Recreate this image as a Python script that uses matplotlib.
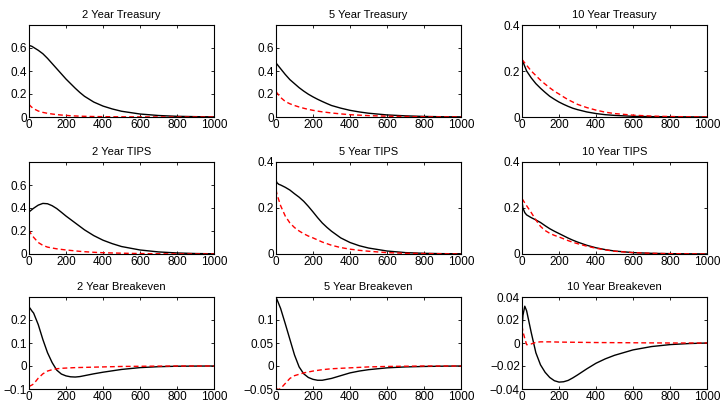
import matplotlib
matplotlib.use("Agg")
import matplotlib.pyplot as plt

plt.rcParams['font.family'] = ['Liberation Sans', 'DejaVu Sans']

# horizon grid shared by all responses
horizon = [0, 5, 15, 25, 50, 75, 100, 125, 150, 175, 200, 225, 250, 275, 300,
           350, 400, 450, 500, 600, 700, 800, 900, 1000]

# solid black responses
tsy2_black = [0.62, 0.62, 0.615, 0.605, 0.58, 0.55, 0.51, 0.465, 0.42, 0.375, 0.33, 0.29,
              0.25, 0.213, 0.18, 0.13, 0.095, 0.07, 0.05, 0.026, 0.013, 0.006, 0.003, 0.001]
tsy5_black = [0.47, 0.46, 0.44, 0.42, 0.37, 0.325, 0.29, 0.255, 0.225, 0.198, 0.175, 0.154,
              0.135, 0.117, 0.10, 0.077, 0.058, 0.044, 0.033, 0.018, 0.01, 0.005, 0.002, 0.001]
tsy10_black = [0.25, 0.24, 0.22, 0.2, 0.17, 0.145, 0.125, 0.107, 0.09, 0.077, 0.065, 0.055,
               0.046, 0.038, 0.032, 0.022, 0.015, 0.01, 0.007, 0.003, 0.0015, 0.001, 0.0005, 0.0]
tips2_black = [0.37, 0.372, 0.385, 0.398, 0.425, 0.44, 0.437, 0.42, 0.395, 0.363, 0.33, 0.30,
               0.27, 0.24, 0.21, 0.16, 0.12, 0.09, 0.065, 0.035, 0.018, 0.009, 0.004, 0.002]
tips5_black = [0.32, 0.31, 0.303, 0.30, 0.29, 0.278, 0.262, 0.247, 0.229, 0.207, 0.183, 0.158,
               0.135, 0.116, 0.099, 0.07, 0.05, 0.036, 0.026, 0.013, 0.006, 0.003, 0.0015, 0.001]
tips10_black = [0.23, 0.2, 0.18, 0.17, 0.158, 0.148, 0.137, 0.123, 0.11, 0.099, 0.089, 0.079,
                0.069, 0.06, 0.052, 0.038, 0.027, 0.019, 0.013, 0.006, 0.003, 0.0015, 0.0007, 0.0003]
be2_black = [0.255, 0.252, 0.24, 0.23, 0.18, 0.115, 0.058, 0.015, -0.018, -0.035, -0.043, -0.047,
             -0.048, -0.046, -0.042, -0.034, -0.027, -0.021, -0.015, -0.007, -0.003, -0.001, -0.0004, 0.0]
be5_black = [0.149, 0.145, 0.135, 0.125, 0.092, 0.058, 0.024, -0.002, -0.017, -0.025, -0.029, -0.031,
             -0.031, -0.029, -0.027, -0.021, -0.015, -0.011, -0.008, -0.004, -0.002, -0.001, -0.0004, 0.0]
be10_black = [0.012, 0.024, 0.032, 0.028, 0.009, -0.0085, -0.019, -0.0255, -0.030, -0.0328, -0.034, -0.0337,
              -0.0325, -0.0303, -0.0278, -0.0225, -0.0176, -0.0138, -0.0107, -0.006, -0.0031, -0.0014, -0.0005, 0.0]

# dashed red responses
tsy2_red = [0.11, 0.1, 0.085, 0.072, 0.052, 0.04, 0.032, 0.026, 0.021, 0.017, 0.014, 0.011,
            0.009, 0.007, 0.006, 0.004, 0.003, 0.002, 0.0015, 0.001, 0.0005, 0.0003, 0.0001, 0.0]
tsy5_red = [0.22, 0.21, 0.19, 0.17, 0.135, 0.115, 0.10, 0.087, 0.076, 0.066, 0.058, 0.051,
            0.045, 0.04, 0.035, 0.027, 0.02, 0.016, 0.012, 0.007, 0.004, 0.002, 0.001, 0.0]
tsy10_red = [0.25, 0.245, 0.235, 0.225, 0.2, 0.18, 0.16, 0.143, 0.127, 0.112, 0.1, 0.087,
             0.075, 0.065, 0.055, 0.041, 0.03, 0.021, 0.015, 0.008, 0.004, 0.002, 0.001, 0.0]
tips2_red = [0.21, 0.19, 0.165, 0.145, 0.1, 0.075, 0.06, 0.052, 0.045, 0.04, 0.035, 0.031,
             0.027, 0.023, 0.02, 0.015, 0.011, 0.009, 0.007, 0.004, 0.002, 0.001, 0.0005, 0.0]
tips5_red = [0.28, 0.26, 0.235, 0.21, 0.165, 0.135, 0.115, 0.1, 0.088, 0.078, 0.07, 0.061,
             0.052, 0.045, 0.038, 0.028, 0.021, 0.016, 0.012, 0.006, 0.003, 0.002, 0.001, 0.0]
tips10_red = [0.24, 0.235, 0.222, 0.21, 0.18, 0.148, 0.12, 0.102, 0.09, 0.081, 0.074, 0.066,
              0.058, 0.051, 0.045, 0.034, 0.025, 0.018, 0.012, 0.006, 0.003, 0.0015, 0.0007, 0.0]
be2_red = [-0.088, -0.087, -0.083, -0.078, -0.053, -0.034, -0.022, -0.016, -0.012, -0.01, -0.009, -0.008,
           -0.007, -0.0065, -0.006, -0.005, -0.004, -0.003, -0.002, -0.0012, -0.0005, 0.0, 0.0, 0.0]
be5_red = [-0.048, -0.05, -0.051, -0.049, -0.038, -0.027, -0.021, -0.018, -0.015, -0.013, -0.011, -0.0095,
           -0.008, -0.007, -0.006, -0.005, -0.004, -0.003, -0.002, -0.001, -0.0005, 0.0, 0.0, 0.0]
be10_red = [0.015, 0.01, 0.004, -0.0015, -0.0008, 0.0006, 0.001, 0.001, 0.001, 0.0009, 0.0008, 0.00075,
            0.0007, 0.00065, 0.0006, 0.0005, 0.0004, 0.00035, 0.0003, 0.0002, 0.0001, 0.0, 0.0, 0.0]

titles = ["2 Year Treasury", "5 Year Treasury", "10 Year Treasury",
          "2 Year TIPS", "5 Year TIPS", "10 Year TIPS",
          "2 Year Breakeven", "5 Year Breakeven", "10 Year Breakeven"]
black_series = [tsy2_black, tsy5_black, tsy10_black, tips2_black, tips5_black,
                tips10_black, be2_black, be5_black, be10_black]
red_series = [tsy2_red, tsy5_red, tsy10_red, tips2_red, tips5_red,
              tips10_red, be2_red, be5_red, be10_red]
ylims = [(0, 0.8), (0, 0.8), (0, 0.4),
         (0, 0.8), (0, 0.4), (0, 0.4),
         (-0.1, 0.3), (-0.05, 0.15), (-0.04, 0.04)]
yticks = [[0, 0.2, 0.4, 0.6], [0, 0.2, 0.4, 0.6], [0, 0.2, 0.4],
          [0, 0.2, 0.4, 0.6], [0, 0.2, 0.4], [0, 0.2, 0.4],
          [-0.1, 0, 0.1, 0.2], [-0.05, 0, 0.05, 0.1], [-0.04, -0.02, 0, 0.02, 0.04]]
ytick_labels = [["0", "0.2", "0.4", "0.6"], ["0", "0.2", "0.4", "0.6"], ["0", "0.2", "0.4"],
                ["0", "0.2", "0.4", "0.6"], ["0", "0.2", "0.4"], ["0", "0.2", "0.4"],
                ["\u22120.1", "0", "0.1", "0.2"], ["\u22120.05", "0", "0.05", "0.1"],
                ["\u22120.04", "\u22120.02", "0", "0.02", "0.04"]]
xticks = [0, 200, 400, 600, 800, 1000]

fig = plt.figure(figsize=(7.22, 4.03), dpi=100)

lefts = [29, 276, 522]
tops = [25, 162, 297]
W, H = 722.0, 403.0
ax_w, ax_h = 185, 92

for i in range(9):
    r, c = divmod(i, 3)
    ax = fig.add_axes([lefts[c] / W, 1 - (tops[r] + ax_h) / H, ax_w / W, ax_h / H])
    ax.plot(horizon, black_series[i], color="black", lw=1.0)
    ax.plot(horizon, red_series[i], color="red", lw=1.0, ls=(0, (3.5, 2.2)))
    ax.set_xlim(0, 1000)
    ax.set_ylim(*ylims[i])
    ax.set_xticks(xticks)
    ax.set_xticklabels([str(t) for t in xticks])
    ax.set_yticks(yticks[i])
    ax.set_yticklabels(ytick_labels[i])
    ax.tick_params(direction="in", top=True, right=True, length=2.5, width=0.6,
                   labelsize=8.5, pad=1.5)
    for s in ax.spines.values():
        s.set_linewidth(0.8)
    ax.set_title(titles[i], fontsize=8, pad=5)

fig.savefig("out.png", dpi=100)
